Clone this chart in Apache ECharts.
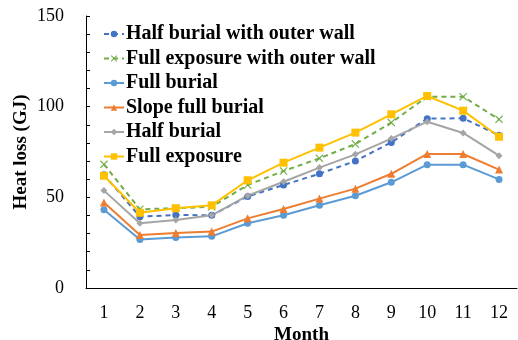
<!DOCTYPE html>
<html>
<head>
<meta charset="utf-8">
<script src="https://cdn.jsdelivr.net/npm/echarts@6/dist/echarts.min.js"></script>
<style>
  html, body { margin: 0; padding: 0; background: #fff; }
  #chart { width: 518px; height: 340px; }
</style>
</head>
<body>
<div id="chart"></div>
<script>
// Monthly heat loss (GJ) for each envelope configuration
const months = ['1', '2', '3', '4', '5', '6', '7', '8', '9', '10', '11', '12'];
const yTicks = [0, 50, 100, 150];

const halfBurialOuterWall   = [62.5, 39.3, 40.3, 40.1, 50.4, 56.8, 63.0, 70.0, 80.3, 93.4, 93.6, 84.2];
const fullExposureOuterWall = [68.2, 43.4, 44.0, 44.8, 56.8, 64.5, 71.5, 79.4, 91.2, 105.5, 105.5, 93.0];
const fullBurial            = [43.2, 26.8, 27.8, 28.5, 35.7, 40.1, 45.6, 50.9, 58.3, 68.0, 68.0, 59.9];
const slopeFullBurial       = [47.1, 29.2, 30.3, 31.1, 38.4, 43.6, 49.3, 54.8, 63.0, 73.9, 73.9, 65.3];
const halfBurial            = [53.7, 35.7, 37.5, 40.1, 50.9, 58.6, 66.4, 73.7, 82.4, 91.7, 85.5, 73.0];
const fullExposure          = [61.9, 41.5, 44.0, 45.6, 59.4, 69.1, 77.4, 85.7, 95.8, 105.9, 97.8, 83.4];

const FONT = '"Liberation Serif", "Times New Roman", serif';
const crossSymbol = 'path://M0,1L1,0L5,4L9,0L10,1L6,5L10,9L9,10L5,6L1,10L0,9L4,5Z';

function lineSeries(name, data, color, symbol, size, dashed) {
  return {
    name: name,
    type: 'line',
    data: data,
    symbol: symbol,
    symbolSize: size,
    showAllSymbol: true,
    lineStyle: { color: color, width: 2, type: dashed ? [5, 4] : 'solid' },
    itemStyle: { color: color },
    emphasis: { disabled: true }
  };
}

const chart = echarts.init(document.getElementById('chart'), null, { renderer: 'canvas' });
chart.setOption({
  animation: false,
  backgroundColor: '#fff',
  grid: { left: 86, right: 1, top: 16, bottom: 52, containLabel: false, outerBoundsMode: 'none' },
  legend: {
    left: 103,
    top: 24,
    padding: 0,
    orient: 'vertical',
    itemWidth: 20,
    itemHeight: 8,
    itemGap: 4.5,
    textStyle: { fontFamily: FONT, fontWeight: 'bold', fontSize: 20, color: '#000', lineHeight: 20, padding: [0, 0, 0, -3] },
    data: ['Half burial with outer wall', 'Full exposure with outer wall', 'Full burial',
           'Slope full burial', 'Half burial', 'Full exposure']
  },
  xAxis: {
    type: 'category',
    data: months,
    boundaryGap: true,
    name: 'Month',
    nameLocation: 'middle',
    nameGap: 38,
    nameMoveOverlap: false,
    nameTextStyle: { fontFamily: FONT, fontWeight: 'bold', fontSize: 19, color: '#000' },
    axisLine: { lineStyle: { color: '#000', width: 1 } },
    axisTick: { inside: true, length: 4, lineStyle: { color: '#888' } },
    axisLabel: { fontFamily: FONT, fontSize: 18, color: '#000', margin: 16 }
  },
  yAxis: {
    type: 'value',
    min: 0,
    max: 150,
    interval: 10,
    name: 'Heat loss (GJ)',
    nameLocation: 'middle',
    nameGap: 55,
    nameMoveOverlap: false,
    nameTextStyle: { fontFamily: FONT, fontWeight: 'bold', fontSize: 19, color: '#000' },
    axisLine: { show: true, lineStyle: { color: '#000', width: 1 } },
    axisTick: { show: true, inside: true, length: 4, lineStyle: { color: '#000' } },
    splitLine: { show: false },
    axisLabel: {
      fontFamily: FONT, fontSize: 18, color: '#000', margin: 22,
      formatter: v => (yTicks.indexOf(v) >= 0 ? String(v) : '')
    }
  },
  series: [
    lineSeries('Half burial with outer wall', halfBurialOuterWall, '#4472C4', 'circle', 7, true),
    lineSeries('Full exposure with outer wall', fullExposureOuterWall, '#70AD47', crossSymbol, 8, true),
    lineSeries('Full burial', fullBurial, '#5B9BD5', 'circle', 7, false),
    lineSeries('Slope full burial', slopeFullBurial, '#ED7D31', 'triangle', 8, false),
    lineSeries('Half burial', halfBurial, '#A5A5A5', 'diamond', 7, false),
    lineSeries('Full exposure', fullExposure, '#FFC000', 'rect', 8, false)
  ]
});
</script>
</body>
</html>
